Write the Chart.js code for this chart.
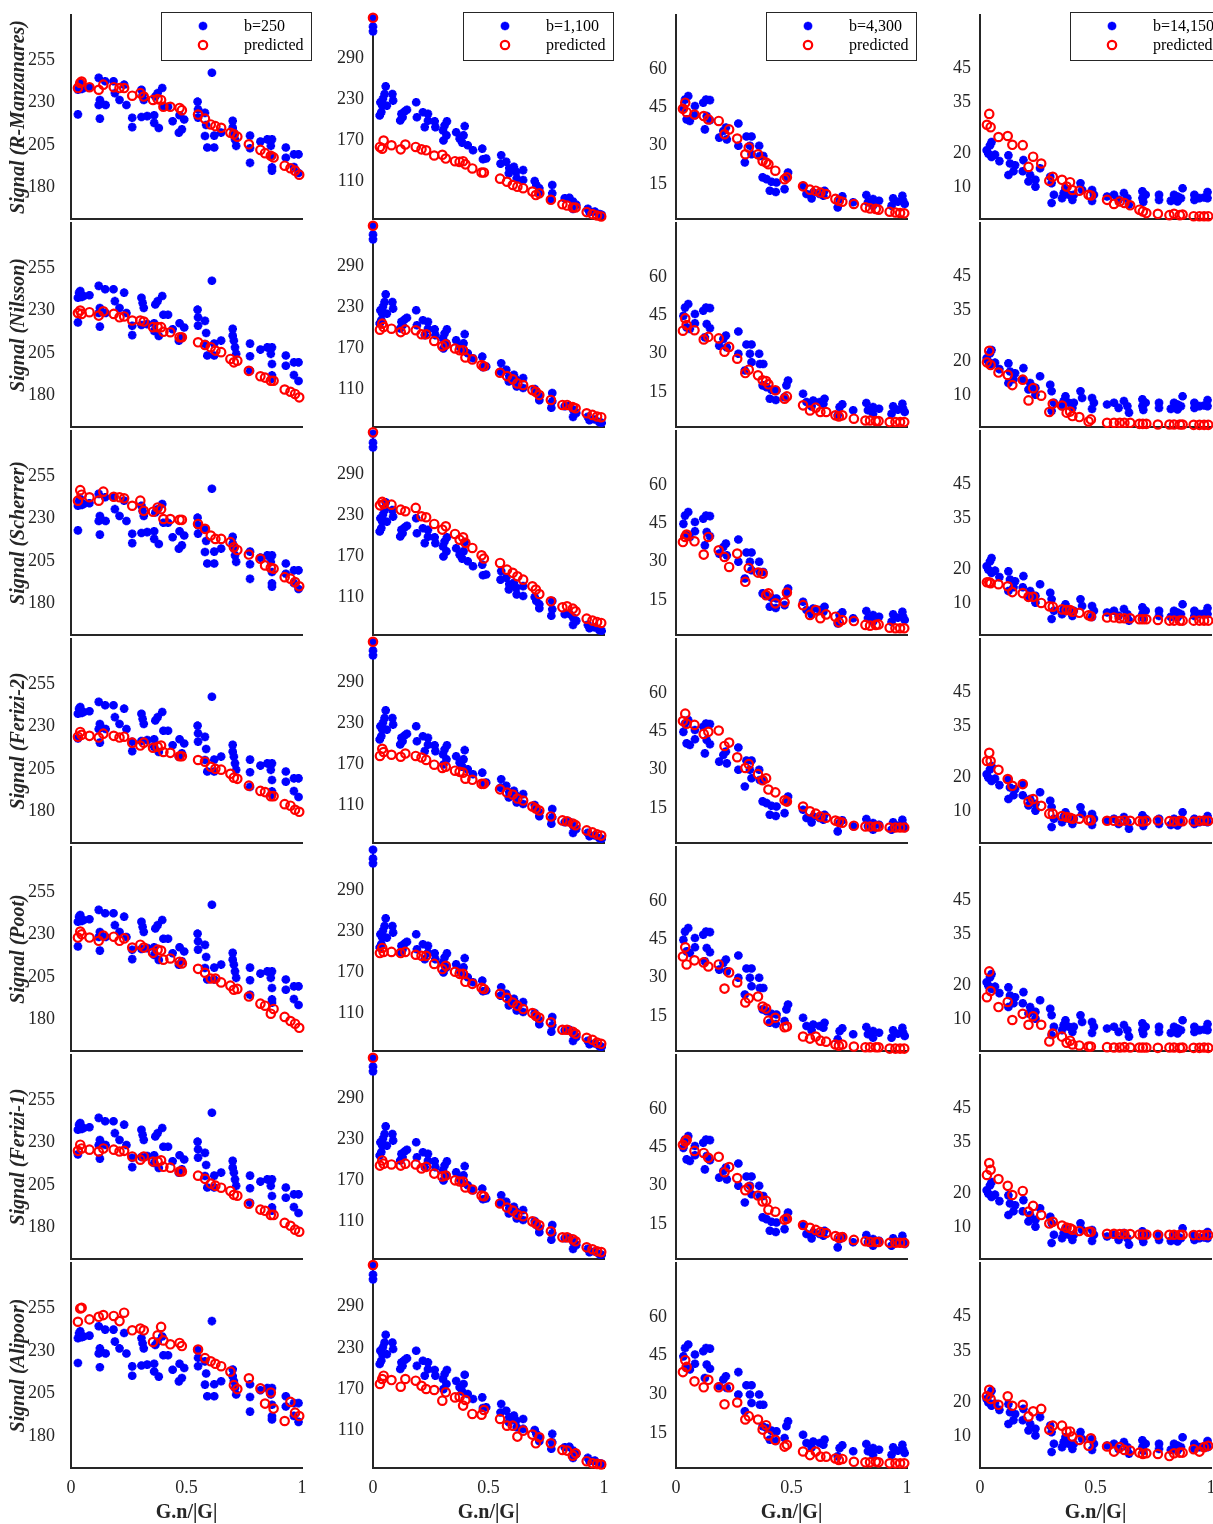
<!DOCTYPE html>
<html>
<head>
<meta charset="utf-8">
<script src="https://cdn.jsdelivr.net/npm/chart.js@4.4.0/dist/chart.umd.min.js"></script>
<style>
  html, body { margin: 0; padding: 0; background: #fff; }
  body { width: 1213px; height: 1524px; position: relative; overflow: hidden; }
  canvas { position: absolute; }
</style>
</head>
<body>
<script>
// models (rows) and shells (columns)
const models = ['R-Manzanares', 'Nilsson', 'Scherrer', 'Ferizi-2', 'Poot', 'Ferizi-1', 'Alipoor'];
const shells = ['b=250', 'b=1,100', 'b=4,300', 'b=14,150'];

const xTicks = [0, 0.5, 1];
const yTicks250 = [180, 205, 230, 255];
const yTicks1100 = [110, 170, 230, 290];
const yTicks4300 = [15, 30, 45, 60];
const yTicks14150 = [10, 20, 35, 45];

// G.n/|G| of the gradient directions used by the predictions
const gdir = [0.03, 0.04, 0.046, 0.08, 0.12, 0.14, 0.185, 0.21, 0.23, 0.265, 0.30, 0.315, 0.355, 0.375, 0.39, 0.40, 0.43, 0.47, 0.48,
  0.55, 0.58, 0.605, 0.625, 0.65, 0.69, 0.705, 0.72, 0.77, 0.82, 0.84, 0.865, 0.877, 0.925, 0.95, 0.97, 0.988];

// measured signal, [G.n/|G|, signal]
const meas250 = [
  [.03,221.5],[.03,236],[.035,239],[.04,240],[.046,236.5],[.055,237],[.08,237.5],
  [.12,243],[.125,230],[.12,227],[.125,219],[.13,228],[.148,241],[.15,227],
  [.184,241],[.19,234],[.21,230],[.23,239],[.24,227],[.265,214],[.265,219.5],
  [.305,236],[.31,233],[.315,230],[.305,220],[.33,220.5],[.36,221],[.36,216.5],[.38,213.5],[.365,232],[.375,234],[.395,237],
  [.40,226],[.42,226],[.44,217.5],[.47,221],[.48,212.7],[.467,210.7],[.49,218.5],
  [.548,229],[.55,224.5],[.55,219.6],[.58,222.4],[.585,215.3],[.58,208.8],[.59,202],[.61,246],[.62,209],[.62,202],[.65,210.8],
  [.70,217.7],[.70,213.7],[.705,210.8],[.71,206.8],[.715,203],
  [.775,209],[.775,201.6],[.775,193],[.82,205.5],[.85,206.8],[.87,206.8],[.865,203],[.87,197],[.87,190.3],[.87,188.4],
  [.93,202],[.93,196],[.965,198],[.985,198],[.985,187],[.965,190.5]
];
const meas1100 = [
  [0,346],[0,333],[0,326],
  [.029,202.6],[.036,207.5],[.032,222],[.043,227],[.055,245.3],[.05,234],[.04,217],[.06,217],[.084,234],[.087,224.5],
  [.118,195.3],[.123,205],[.137,208.4],[.147,211],[.128,200],
  [.187,222],[.19,200],[.216,207.5],[.224,185.6],[.238,205],[.238,195],
  [.267,194],[.27,185.6],
  [.303,180.8],[.31,188],[.305,166],[.32,194],[.318,173.5],
  [.36,178],[.375,168.7],[.397,187],[.392,173.5],[.386,162.8],
  [.41,159],[.433,151.6],[.473,154],[.476,138.5],[.49,139.5],
  [.555,144.4],[.552,132],[.577,134.6],[.59,125],[.588,117.7],[.61,127.4],[.62,120],[.622,110.4],[.65,122.5],[.65,108],
  [.70,106.5],[.707,100.7],[.72,95.8],[.72,90],
  [.776,100.7],[.776,88.5],[.772,79],
  [.83,81.3],[.85,82],[.866,76.4],[.88,71.6],[.866,65.7],
  [.93,65.7],[.937,60.9],[.96,61.8],[.98,58],[.99,57]
];
const meas4300 = [
  [.032,43.8],[.039,47],[.053,48.4],[.046,39.3],[.06,38.7],[.082,44.5],[.082,40.9],
  [.118,45.8],[.13,47],[.147,46.8],[.125,35.4],[.133,40.6],[.147,39],
  [.187,32.2],[.205,34.8],[.216,36.1],[.22,31.5],
  [.27,37.7],[.27,29],
  [.298,22.5],[.305,32.6],[.327,32.6],[.32,29],[.327,25.7],
  [.36,29],[.363,25],[.378,25],[.375,16.7],[.392,16],
  [.406,11.5],[.432,11],[.413,15],[.435,14.7],[.47,12.1],[.485,18.6],[.478,16.7],
  [.55,13.4],[.565,10.2],[.587,8.5],[.594,10.8],[.622,10.2],[.643,11.5],[.638,9.5],
  [.70,5],[.708,8.2],[.72,9.3],
  [.767,7],[.824,9.8],[.831,7],[.853,8.2],[.879,7.6],[.853,5.6],
  [.94,8.5],[.933,5.6],[.96,7.2],[.983,7.6],[.99,6.3],[.98,9.5]
];
const meas14150 = [
  [.029,20.2],[.043,21.6],[.05,22.6],[.036,19.2],[.05,18.2],[.065,18.9],[.084,17],
  [.123,18.7],[.123,12.9],[.13,16.3],[.152,15.8],[.145,14],
  [.188,17.3],[.185,14],[.21,11],[.217,12.9],[.24,11.5],[.24,9.5],[.26,14.9],
  [.304,12.4],[.31,4.7],[.32,7.1],[.31,10.5],
  [.355,6.1],[.362,7.6],[.37,9],[.384,7.1],[.4,5.6],[.406,7.1],
  [.435,10.5],[.442,8.5],[.485,8.5],[.485,5.3],[.493,7.1],
  [.55,6.6],[.58,7.1],[.6,5.6],[.623,7.6],[.638,6.1],[.645,4.2],
  [.703,8.1],[.703,6.1],[.717,7.1],[.707,5],
  [.775,7.1],[.775,5.6],
  [.826,5.3],[.84,7.1],[.855,6.6],[.877,9],[.87,6.1],[.855,5.1],
  [.928,7.1],[.928,5.6],[.95,6.1],[.97,6.3],[.985,7.9],[.985,6.1]
];

// predicted signal at gdir, one row per model (same order as models)
const pred250 = [
  [237, 240, 240.8, 237.5, 236, 239, 237.5, 237, 237, 232.5, 234, 232, 230, 230.5, 230, 226, 226, 225.3, 224, 221.4, 219, 215.6, 214.6, 213.6, 210.7, 209.8, 208.4, 203.9, 200.6, 198.7, 197.1, 196.2, 191.3, 189.8, 188.4, 186],
  [227, 228.5, 226.5, 227.5, 225.5, 228, 226.5, 224.5, 225, 222.6, 222.6, 222, 218.7, 218.7, 218.7, 216, 215.7, 212.8, 212.8, 209.8, 208.2, 206.9, 204.9, 204, 200, 198, 199, 193, 189.8, 189, 187.2, 187.2, 182, 180.7, 179.4, 177.4],
  [239, 245.2, 242.5, 241, 239, 244.3, 241.3, 241, 240.4, 236, 239, 233, 232.5, 235, 234, 228.2, 228.2, 227.7, 227.7, 225.3, 222.4, 218.5, 216.5, 216.5, 214.6, 211.6, 210, 207.3, 204.8, 200.9, 199.5, 199, 194, 193.1, 191.1, 188.6],
  [222.5, 225.3, 223.6, 223, 222, 224.3, 223, 222, 222.5, 219, 217.3, 219, 216, 216.6, 217.3, 213.5, 213, 211, 211, 208.8, 207.8, 204.8, 203.6, 203.1, 200.7, 198.4, 197.7, 193.7, 190.6, 189.9, 187.5, 187.5, 182.8, 181.9, 179.5, 178.3],
  [226.7, 230.2, 228.6, 226.7, 224.8, 227.9, 227.2, 224.8, 226.2, 220.8, 222.5, 220.8, 217.7, 219.6, 219.1, 213.7, 214.4, 212.5, 211.4, 208.3, 206, 202.6, 202.6, 200.3, 198.4, 196, 196.5, 192, 187.8, 186.6, 181.9, 184.7, 180, 177.6, 176, 173.6],
  [223.6, 227.2, 225, 224.3, 223.2, 225, 224.3, 223.2, 223.6, 220.3, 218.4, 220.3, 217.3, 217.3, 218, 214.2, 213.7, 211.4, 211.4, 209, 207.1, 204.3, 203.1, 201.9, 200, 197.7, 197.2, 192.5, 189, 188.3, 185.9, 185.9, 181.2, 179.5, 177.2, 176],
  [245.6, 253.4, 253.8, 247, 248.5, 249.5, 249, 246, 250.9, 240.6, 241.6, 240.6, 233.7, 237.7, 242.6, 234.7, 232.4, 233.2, 231.4, 229.4, 224.3, 222.5, 221, 219.6, 216.4, 208.5, 206.2, 212.5, 206.6, 197.7, 204.2, 194.8, 187.5, 198.7, 192.4, 190.4]
];
const pred1100 = [
  [156.5, 154, 166, 159, 153, 160, 156.5, 153, 151.6, 144, 145, 139.5, 135.6, 134.6, 135.6, 131, 125, 119, 119, 110, 105.5, 100.7, 98.3, 96, 91, 86, 88.5, 79, 72.5, 70.6, 67.7, 67.7, 61, 58, 56, 54.6],
  [193.6, 202.4, 197.5, 195, 190, 193.6, 192.7, 186.8, 186.8, 177, 169.3, 172, 166, 163.5, 163.5, 152.8, 150, 141.6, 140, 130.4, 125.5, 120.7, 114.8, 112.4, 105, 102.6, 97.8, 90.5, 83.2, 83.2, 80, 78.3, 71, 68.6, 66.2, 65.2],
  [241, 246, 243, 242, 234.7, 232.3, 237.2, 225, 223.5, 213.7, 205.4, 210.3, 199, 190.7, 194.2, 186, 178.5, 167.8, 163, 156.5, 146.7, 142, 137, 132, 122.3, 117.4, 111, 100.3, 91.5, 93, 89.5, 85.6, 74.8, 72, 70, 68.5],
  [178.5, 189, 184.3, 180.3, 177.3, 182, 178.5, 176.2, 172.7, 165.7, 161, 162.7, 156.9, 155.2, 154, 145.2, 143.5, 137.6, 137.6, 129.5, 124.8, 121.9, 116, 113.1, 104.4, 101.4, 98.5, 89.8, 84, 82.8, 79.3, 77, 69.3, 66.4, 63.5, 61.7],
  [194.5, 202, 196, 196.2, 194.5, 196.2, 192, 190.4, 190.4, 178.6, 171, 175.7, 167, 164, 164, 152.3, 149.3, 143.5, 141.7, 134.7, 128.8, 122, 117.1, 112.4, 106.5, 102.4, 99.5, 93, 82, 82, 79, 76, 70.2, 67.3, 63.2, 61.4],
  [187.8, 195.4, 190.7, 189.5, 187.8, 190.7, 189.5, 183.7, 186, 176.1, 172, 173.2, 166.2, 164.4, 164.4, 155.7, 152.7, 144, 142.8, 132.3, 126.4, 121.8, 116, 113.6, 106, 103, 100.2, 91.4, 82.6, 82.6, 79.7, 76.8, 68, 65.1, 62.2, 61],
  [173.5, 180.8, 185.6, 179.3, 169.6, 180.8, 178.3, 171, 166.2, 164.8, 149.2, 161.4, 154, 155, 142, 150.2, 129.8, 128.8, 135.6, 122.5, 112.8, 112.8, 96.8, 105.5, 99.7, 87, 95.8, 87, 77.4, 76.4, 69, 72.5, 60.9, 58, 57, 56]
];
// predicted b=0 point (G.n/|G| = 0) in the b=1,100 column
const pred1100Zero = [346, 346, 348, 346, null, 346, 347];
const pred4300 = [
  [43.4, 45.8, 42.1, 41.2, 40.6, 39.3, 38.7, 33.5, 35.4, 31.8, 25.7, 28.3, 25.7, 23.1, 22.5, 21.8, 19.3, 16, 16.7, 13.2, 11.9, 11.5, 10.8, 10.2, 8.3, 7.6, 7.2, 6.3, 5, 4.6, 4.4, 4.1, 3.3, 3, 2.8, 2.7],
  [38, 42.8, 40.2, 38.2, 34.6, 35.6, 35, 29.8, 31.7, 27.1, 21.5, 22.8, 20.6, 18.7, 18.4, 17.1, 14.8, 11.5, 12.4, 8.9, 6.9, 8, 6.3, 6.3, 5, 4.6, 5, 3.7, 3, 3, 2.8, 2.8, 2.4, 2.4, 2.4, 2.4],
  [36.7, 38.7, 39.6, 37, 31.8, 38.7, 33.5, 30.9, 27, 32.2, 21.2, 26.6, 24.8, 24.4, 16, 16.7, 12.8, 13.2, 17, 12.1, 8.3, 10.2, 7, 8.5, 7.6, 5.4, 6.3, 5.9, 4.4, 4.1, 4.4, 4.6, 3.3, 3.1, 3.1, 3.1],
  [48, 50.9, 47, 46.5, 43, 43.8, 44.3, 38.3, 39.6, 33.9, 29.7, 31.2, 27.3, 24.9, 25.7, 21.3, 20.2, 17.1, 16.6, 14.7, 12.8, 11.9, 10.8, 10.3, 9.2, 8.7, 8.4, 7.2, 6.9, 6.9, 6.9, 6.9, 6.5, 6.5, 6.5, 6.5],
  [37.3, 40.9, 34.2, 35.8, 35, 33.4, 34.2, 24.8, 31.1, 27.2, 19.4, 21, 21.7, 17.8, 17, 12.3, 13.4, 9.7, 10, 6.1, 5.3, 6.1, 4.5, 4.1, 3, 2.5, 3, 2.2, 1.9, 1.9, 1.9, 1.9, 1.4, 1.4, 1.4, 1.4],
  [45, 46.3, 46.9, 42.6, 41.8, 39.9, 40.3, 34.3, 36.3, 32, 27.3, 28.4, 25.2, 22.9, 23.2, 19.7, 18.9, 15.8, 16.2, 13.7, 12.6, 11.8, 11, 10.6, 9.4, 8.7, 9, 7.9, 7.4, 7.1, 7.1, 7.1, 6.8, 6.8, 6.8, 6.8],
  [37.7, 42.3, 39.7, 34.1, 31.8, 34.7, 31.8, 25.2, 31.8, 25.9, 19.3, 20.6, 19.3, 15.4, 17.1, 13.1, 11.4, 8.8, 9.5, 6.9, 5.5, 6.9, 4.9, 4.9, 4.2, 3.6, 4, 2.9, 2.7, 2.7, 2.9, 2.7, 2.3, 2.3, 2.3, 2.3]
];
const pred14150 = [
  [27.7, 30.9, 27, 24.1, 24.4, 21.8, 21.7, 15.3, 18.3, 16.3, 11.2, 12.4, 11.5, 9.5, 10.8, 8.5, 8.3, 7.1, 6.9, 5.6, 4.4, 5.1, 4.7, 4, 2.7, 2.2, 1.7, 1.5, 1.1, 1.5, 1.1, 1.3, 0.8, 0.8, 0.8, 0.8],
  [19, 22.4, 18.2, 16, 15.3, 12.3, 13.9, 7.8, 11.4, 9.2, 4.4, 6.8, 6.3, 4.2, 4.5, 3.2, 2.9, 1.6, 2.2, 1.2, 1.2, 1.2, 1.2, 1.2, 0.9, 0.9, 0.9, 0.7, 0.7, 0.7, 0.7, 0.7, 0.6, 0.6, 0.6, 0.6],
  [15.5, 15.5, 15.2, 14.9, 14.3, 12.6, 12.3, 11.2, 11.2, 9.4, 8.4, 8.3, 7.5, 7.3, 7.3, 6.8, 6.5, 5.8, 5.5, 5.1, 5.1, 4.9, 4.9, 4.9, 4.6, 4.6, 4.6, 4.4, 4.2, 4.2, 4.2, 4.2, 4.2, 4.2, 4.2, 4.2],
  [24.1, 26.5, 24.1, 21.5, 18.8, 16.8, 17.3, 12.1, 12.9, 10.9, 8.6, 8.6, 7.9, 7.6, 7.4, 7.1, 7.1, 6.7, 6.7, 6.5, 6.5, 6.4, 6.6, 6.5, 6.4, 6.3, 6.5, 6.6, 6.4, 6.3, 6.5, 6.4, 6.3, 6.5, 6.6, 6.5],
  [15.8, 23.4, 17.6, 12.9, 14.4, 9.1, 10.9, 7.7, 10.2, 7.7, 2.8, 5.1, 4.2, 2.4, 3, 1.9, 1.6, 1.3, 1.3, 1.1, 1, 1, 1.1, 1, 1, 1, 1, 0.9, 1, 1, 0.9, 1, 0.9, 0.9, 1, 0.9],
  [24.7, 28.2, 26.2, 23.5, 21.5, 18.8, 20, 13.9, 15.6, 12.9, 10.4, 10.9, 9.8, 9.2, 9, 8.6, 8.2, 8, 8, 7.4, 7.4, 7.3, 7.3, 7.3, 7.2, 7.2, 7.2, 7.1, 7.1, 7.1, 7.1, 7.1, 7, 7, 7, 7],
  [21, 22.9, 20.2, 18.5, 21, 18.2, 18.5, 15.1, 16.6, 17.3, 11.2, 12.4, 12.4, 10.7, 10.7, 9.2, 8.2, 6.5, 8.7, 6.3, 4.8, 6.1, 5.3, 5.1, 4.5, 4.1, 4.3, 4.1, 3.5, 4.3, 4.5, 4.5, 5.5, 4.8, 6.1, 6.5]
];

const measured = [meas250, meas1100, meas4300, meas14150];
const predicted = [pred250, pred1100, pred4300, pred14150];
const yTickSets = [yTicks250, yTicks1100, yTicks4300, yTicks14150];
const yLimits = [[160, 280], [51, 350], [0.5, 80], [0, 60]];

// layout of the grid of axes
const panelLeft = [71, 373, 676, 980];
const plotW = 231, plotH = 205, rowStep = 208, firstTop = 15, yAxisW = 71;
const serif = '"Liberation Serif", "Times New Roman", serif';
const ink = '#262626';

// MATLAB-like boxed legend in the top row
const boxLegend = {
  id: 'boxLegend',
  afterDatasetsDraw(chart, args, opts) {
    if (!opts.show) return;
    const ctx = chart.ctx, area = chart.chartArea;
    const x = area.left + 90, y = area.top - 3, w = 150, h = 48;
    ctx.save();
    ctx.fillStyle = '#fff';
    ctx.fillRect(x, y, w, h);
    ctx.strokeStyle = ink;
    ctx.lineWidth = 1;
    ctx.strokeRect(x + 0.5, y + 0.5, w, h);
    const rowsY = [y + 14, y + 33];
    chart.data.datasets.forEach((ds, i) => {
      ctx.fillStyle = ds.backgroundColor;
      ctx.strokeStyle = ds.borderColor;
      ctx.lineWidth = ds.borderWidth;
      Chart.helpers.drawPoint(ctx, {
        pointStyle: ds.pointStyle, radius: ds.pointRadius,
        borderWidth: ds.borderWidth, rotation: 0
      }, x + 42, rowsY[i]);
      ctx.fillStyle = '#000';
      ctx.font = '16px ' + serif;
      ctx.textAlign = 'left';
      ctx.textBaseline = 'middle';
      ctx.fillText(ds.label, x + 83, rowsY[i] + 1);
    });
    ctx.restore();
  }
};

function noPadding(s) {
  s.paddingTop = 0;
  s.paddingBottom = 0;
  s.paddingLeft = 0;
  s.paddingRight = 0;
}

function makePanel(row, col) {
  const last = row === models.length - 1;
  const padTop = 8, padRight = 14;
  const xAxisH = last ? 62 : 0;
  const padBottom = last ? 0 : 6;
  const w = yAxisW + plotW + padRight;
  const h = padTop + plotH + xAxisH + padBottom;

  const canvas = document.createElement('canvas');
  canvas.width = w;
  canvas.height = h;
  canvas.style.width = w + 'px';
  canvas.style.height = h + 'px';
  canvas.style.left = (panelLeft[col] - yAxisW) + 'px';
  canvas.style.top = (firstTop + row * rowStep - padTop) + 'px';
  document.body.appendChild(canvas);

  const predPts = gdir.map((g, i) => ({ x: g, y: predicted[col][row][i] }));
  if (col === 1 && pred1100Zero[row] !== null) predPts.unshift({ x: 0, y: pred1100Zero[row] });

  new Chart(canvas, {
    type: 'scatter',
    data: {
      datasets: [
        {
          label: shells[col],
          data: measured[col].map(p => ({ x: p[0], y: p[1] })),
          pointStyle: 'star',
          pointRadius: 4.3,
          borderWidth: 2.8,
          backgroundColor: '#0000ff',
          borderColor: '#0000ff',
          order: 2,
          clip: false
        },
        {
          label: 'predicted',
          data: predPts,
          pointStyle: 'circle',
          pointRadius: 4.2,
          borderWidth: 2.2,
          backgroundColor: 'rgba(0,0,0,0)',
          borderColor: '#ff0000',
          order: 1,
          clip: false
        }
      ]
    },
    options: {
      responsive: false,
      animation: false,
      events: [],
      layout: { padding: { top: padTop, right: padRight, bottom: padBottom, left: 0 } },
      plugins: {
        legend: { display: false },
        tooltip: { enabled: false },
        boxLegend: { show: row === 0 }
      },
      scales: {
        x: {
          type: 'linear',
          min: 0,
          max: 1,
          grid: { display: false, drawTicks: false },
          border: { display: true, color: ink, width: 2 },
          ticks: {
            display: last, color: ink, padding: 9, maxRotation: 0, autoSkip: false,
            font: { family: serif, size: 18 },
            callback: v => String(v)
          },
          afterBuildTicks: s => { s.ticks = xTicks.map(v => ({ value: v })); },
          afterFit: s => { s.height = xAxisH; noPadding(s); },
          title: {
            display: last, text: 'G.n/|G|', color: ink,
            font: { family: serif, size: 20, weight: 'bold' },
            padding: { top: 0, bottom: 5 }
          }
        },
        y: {
          type: 'linear',
          min: yLimits[col][0],
          max: yLimits[col][1],
          grid: { display: false, drawTicks: false },
          border: { display: true, color: ink, width: 2 },
          ticks: {
            color: ink, padding: col === 0 ? 16 : 9, autoSkip: false, labelOffset: 2.5,
            font: { family: serif, size: 18 },
            callback: v => String(v)
          },
          afterBuildTicks: s => { s.ticks = yTickSets[col].map(v => ({ value: v })); },
          afterFit: s => { s.width = yAxisW; noPadding(s); },
          title: {
            display: col === 0, text: 'Signal (' + models[row] + ')', color: ink,
            font: { family: serif, size: 20, weight: 'bold', style: 'italic' },
            padding: { top: 7, bottom: 0 }
          }
        }
      }
    },
    plugins: [boxLegend]
  });
}

for (let r = 0; r < models.length; r++) {
  for (let c = 0; c < shells.length; c++) makePanel(r, c);
}
</script>
</body>
</html>
